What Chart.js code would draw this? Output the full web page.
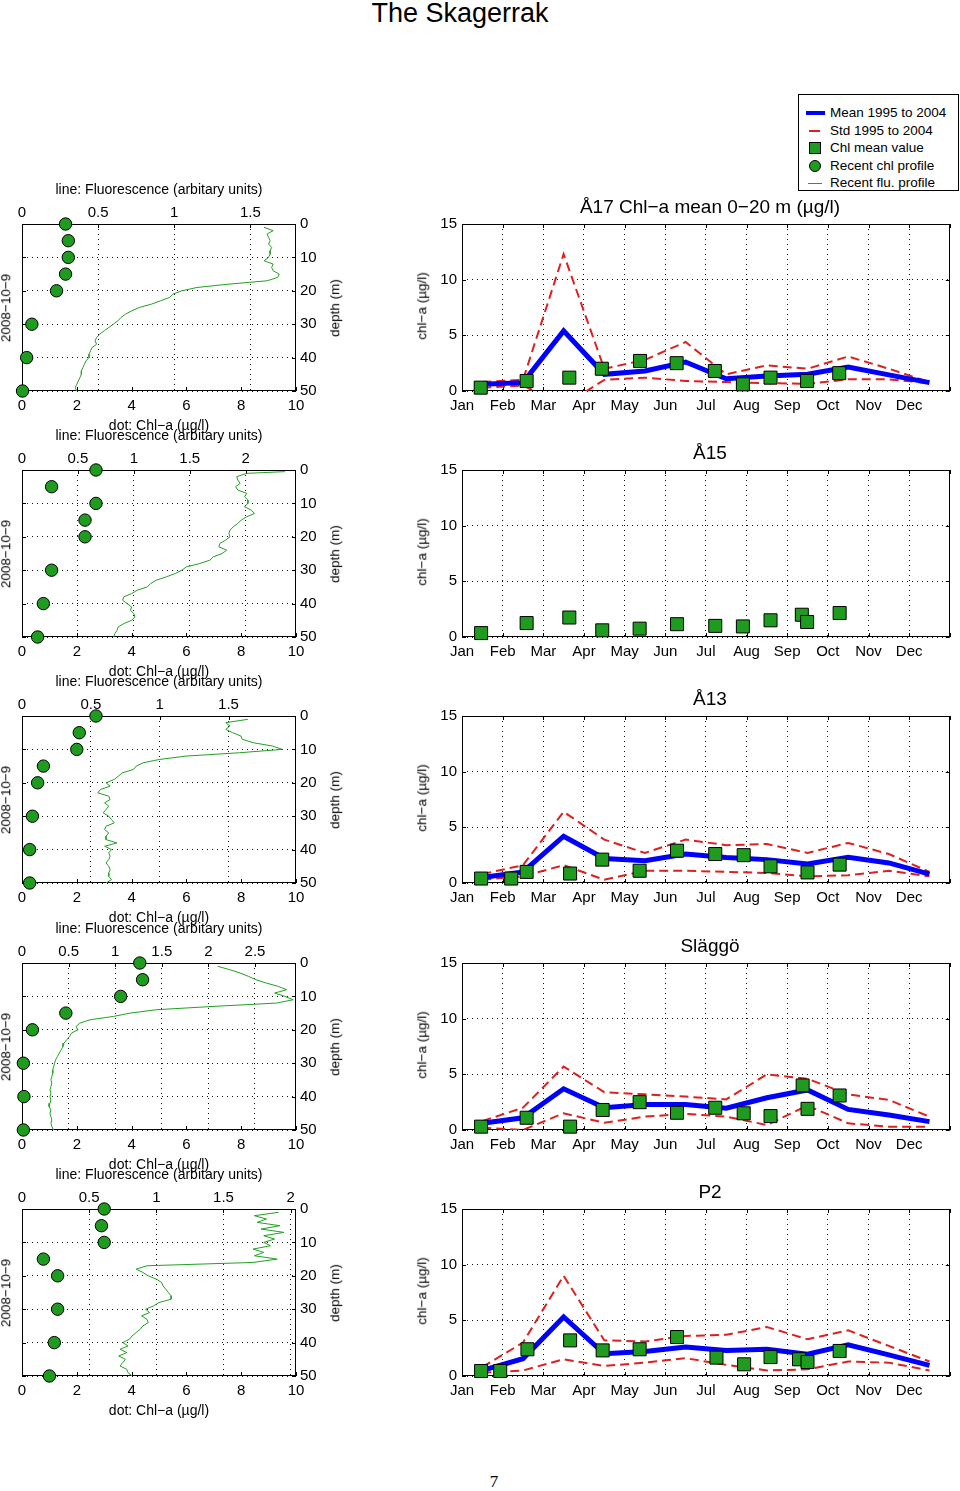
<!DOCTYPE html>
<html><head><meta charset="utf-8">
<script src="https://cdn.jsdelivr.net/npm/chart.js@4.4.0/dist/chart.umd.min.js"></script>
<style>
html,body{margin:0;padding:0;background:#fff;}
body{width:960px;height:1491px;position:relative;overflow:hidden;font-family:"Liberation Sans",Arial,Helvetica,sans-serif;color:#000;}
canvas{position:absolute;}
.t{position:absolute;transform:translate(-50%,-50%);white-space:nowrap;line-height:1;}
.r{position:absolute;transform:translate(-50%,-50%) rotate(-90deg);white-space:nowrap;line-height:1;}
.lg{position:absolute;left:798px;top:94px;width:161px;height:97px;box-sizing:border-box;border:1px solid #000;background:#fff;}
.lt{position:absolute;left:830px;transform:translateY(-50%);font-size:13.5px;white-space:nowrap;line-height:1;}
</style></head>
<body>
<script>
// ---------- categories / tick labels ----------
const months = ['Jan','Feb','Mar','Apr','May','Jun','Jul','Aug','Sep','Oct','Nov','Dec'];
const meanX = [0.5,1.5,2.5,3.5,4.5,5.5,6.5,7.5,8.5,9.5,10.5,11.5];

// ---------- Å17 ----------
const a17Mean = [0.6,0.75,5.4,1.5,1.8,2.6,1.1,1.35,1.5,2.15,1.45,0.75];
const a17Up   = [0.8,1.0,12.3,2.0,2.8,4.4,1.5,2.3,2.0,3.1,2.0,0.8];
const a17Lo   = [0.3,0.5,-1.3,1.0,1.2,0.9,0.8,0.7,0.65,1.05,1.05,0.7];
const a17BoxX = [0.46,1.59,2.64,3.44,4.38,5.28,6.22,6.91,7.59,8.49,9.28];
const a17BoxY = [0.3,0.9,1.2,2.0,2.7,2.5,1.8,0.6,1.2,0.9,1.6];

// ---------- Å15 ----------
const a15BoxX = [0.47,1.59,2.64,3.45,4.37,5.29,6.23,6.91,7.59,8.36,8.49,9.29];
const a15BoxY = [0.35,1.25,1.75,0.6,0.75,1.15,1.0,0.95,1.5,2.0,1.35,2.15];

// ---------- Å13 ----------
const a13Mean = [0.5,1.0,4.2,2.2,2.0,2.6,2.3,2.1,1.7,2.3,1.8,0.8];
const a13Up   = [0.8,1.6,6.4,3.9,2.7,3.9,3.4,3.5,2.7,3.6,2.6,1.0];
const a13Lo   = [0.3,0.6,1.6,0.3,1.1,1.1,1.0,0.9,0.6,0.7,1.1,0.6];
const a13BoxX = [0.47,1.21,1.59,2.66,3.45,4.37,5.29,6.23,6.93,7.59,8.5,9.29];
const a13BoxY = [0.4,0.4,1.0,0.85,2.1,1.1,2.9,2.6,2.5,1.5,0.95,1.65];

// ---------- Släggö ----------
const slMean = [0.6,1.1,3.7,2.0,2.3,2.3,1.95,2.9,3.6,1.85,1.35,0.75];
const slUp   = [0.8,2.0,5.7,3.4,3.2,3.0,2.75,5.0,4.6,3.2,2.7,1.2];
const slLo   = [0.2,0.0,1.5,0.65,1.2,1.45,1.2,0.45,2.2,0.6,0.3,0.3];
const slBoxX = [0.47,1.59,2.66,3.46,4.37,5.29,6.23,6.93,7.59,8.38,8.5,9.29];
const slBoxY = [0.3,1.1,0.3,1.8,2.5,1.55,2.0,1.5,1.25,4.0,1.9,3.1];

// ---------- P2 ----------
const p2Mean = [0.5,1.55,5.3,2.0,2.2,2.6,2.3,2.4,1.95,2.8,1.9,0.95];
const p2Up   = [0.8,3.0,9.0,3.2,3.1,3.6,3.7,4.4,3.3,4.1,2.7,1.3];
const p2Lo   = [0.3,0.5,1.5,0.9,1.2,1.6,1.0,0.5,0.6,1.3,1.2,0.5];
const p2BoxX = [0.47,0.94,1.61,2.66,3.46,4.37,5.29,6.26,6.94,7.59,8.29,8.5,9.29];
const p2BoxY = [0.45,0.45,2.4,3.2,2.3,2.4,3.5,1.65,1.05,1.7,1.5,1.25,2.25];

// ---------- profiles (2008-10-9) ----------
const dotDepth = [0,5,10,15,20,30,40,50];
const chl17 = [1.59,1.69,1.69,1.59,1.26,0.36,0.17,0.02];
const chl15 = [2.7,1.08,2.7,2.3,2.3,1.08,0.78,0.57];
const chl13 = [2.7,2.09,2.0,0.78,0.57,0.38,0.28,0.28];
const chlSl = [4.3,4.4,3.6,1.6,0.38,0.05,0.07,0.05];
const chlP2 = [3.0,2.9,3.0,0.78,1.3,1.3,1.18,1.0];

const fluDepth = [0.5,1,2,3,4,5,6,7,8,9,10,11,12,13,14,15,16,17,18,19,20,21,22,23,24,25,26,27,28,29,30,31,32,33,34,35,36,37,38,39,40,41,42,43,44,45,46,47,48,49,50];
const flu17 = [null,1.59,1.65,1.61,1.62,1.63,1.62,1.64,1.63,1.63,1.62,1.59,1.65,1.64,1.65,1.69,1.68,1.61,1.36,1.15,1.05,0.99,0.97,0.91,0.85,0.77,0.72,0.68,0.65,0.63,0.60,0.57,0.54,0.51,0.49,0.48,0.49,0.46,0.45,0.44,0.44,0.42,0.41,0.40,0.39,0.39,0.38,0.37,0.36,0.35,0.36];
const flu15 = [2.35,2.01,1.92,1.93,1.95,1.91,1.93,2.01,1.99,2.02,2.02,1.99,2.05,2.08,2.01,1.96,1.93,1.89,1.86,1.85,1.86,1.82,1.77,1.76,1.83,1.79,1.71,1.68,1.59,1.47,1.43,1.37,1.29,1.20,1.15,1.12,1.03,0.98,0.91,0.90,0.94,0.98,0.97,1.00,1.01,0.98,0.91,0.86,0.85,0.83,0.82];
const flu13 = [null,1.64,1.48,1.51,1.48,1.53,1.59,1.60,1.68,1.82,1.89,1.58,1.19,1.00,0.88,0.83,0.81,0.73,0.70,0.67,0.61,0.64,0.57,0.55,0.63,0.64,0.60,0.63,0.61,0.59,0.63,0.65,0.67,0.61,0.60,0.63,0.61,0.61,0.69,0.60,0.65,0.63,0.64,0.63,0.61,0.63,0.64,0.63,0.63,0.65,0.61];
const fluSl = [null,2.10,2.23,2.34,2.43,2.51,2.62,2.75,2.84,2.71,2.82,2.91,2.73,2.05,1.44,1.16,0.98,0.73,0.62,0.58,0.60,0.53,0.51,0.48,0.45,0.44,0.42,0.40,0.38,0.36,0.35,0.34,0.33,0.33,0.32,0.31,0.32,0.31,0.30,0.31,0.30,0.31,0.30,0.29,0.31,0.30,0.31,0.32,0.31,0.32,0.34];
const fluP2 = [null,1.91,1.73,1.82,1.75,1.92,1.78,1.95,1.80,1.88,1.80,1.85,1.72,1.80,1.73,1.90,1.72,0.93,0.85,0.90,0.94,1.00,1.04,1.05,1.07,1.09,1.11,1.11,1.02,0.98,0.92,0.95,0.89,0.93,0.94,0.90,0.88,0.85,0.82,0.80,0.75,0.79,0.73,0.78,0.72,0.77,0.75,0.73,0.78,0.79,0.82];
const fluMaxes = [1.8,2.45,1.99,2.94,2.04];

const stationTitles = ['Å17 Chl−a mean 0−20 m (µg/l)','Å15','Å13','Släggö','P2'];

// ---------- assemble ----------
const stations = [
  {chl:chl17, flu:flu17, bx:a17BoxX, by:a17BoxY, mean:a17Mean, up:a17Up, lo:a17Lo},
  {chl:chl15, flu:flu15, bx:a15BoxX, by:a15BoxY, mean:null},
  {chl:chl13, flu:flu13, bx:a13BoxX, by:a13BoxY, mean:a13Mean, up:a13Up, lo:a13Lo},
  {chl:chlSl, flu:fluSl, bx:slBoxX, by:slBoxY, mean:slMean, up:slUp, lo:slLo},
  {chl:chlP2, flu:fluP2, bx:p2BoxX, by:p2BoxY, mean:p2Mean, up:p2Up, lo:p2Lo}
];

const tops = [224,470,716,963,1209];
const H = 167;
const GREEN = '#1f9c1f', RED = '#dd2020', BLUE = '#0000ff', FLU = '#22a022', GRID = '#111';

Chart.defaults.font.family = '"Liberation Sans", Arial, Helvetica, sans-serif';
Chart.defaults.font.size = 15;
Chart.defaults.color = '#000';

// frame + inward ticks (MATLAB look), drawn from the chart's own scales
const framePlugin = {
  id: 'frame',
  beforeDatasetsDraw(chart, args, opts) {
    const {ctx, chartArea: a} = chart;
    const L = 4;
    ctx.save();
    ctx.strokeStyle = '#000'; ctx.lineWidth = 1; ctx.setLineDash([]);
    Object.values(chart.scales).forEach(s => {
      s.ticks.forEach(t => {
        const p = Math.round(s.getPixelForValue(t.value)) + 0.5;
        ctx.beginPath();
        if (s.isHorizontal()) {
          if (s.position === 'top') { ctx.moveTo(p, a.top); ctx.lineTo(p, a.top + L); if (opts.mirrorX) { ctx.moveTo(p, a.bottom); ctx.lineTo(p, a.bottom - L); } }
          else { ctx.moveTo(p, a.bottom); ctx.lineTo(p, a.bottom - L); if (opts.mirrorX) { ctx.moveTo(p, a.top); ctx.lineTo(p, a.top + L); } }
        } else {
          ctx.moveTo(a.left, p); ctx.lineTo(a.left + L, p);
          ctx.moveTo(a.right, p); ctx.lineTo(a.right - L, p);
        }
        ctx.stroke();
      });
    });
    ctx.strokeRect(Math.round(a.left) + 0.5, Math.round(a.top) + 0.5, Math.round(a.right - a.left) - 1, Math.round(a.bottom - a.top) - 1);
    ctx.restore();
  }
};

function addText(str, x, y, size, cls, extra) {
  const d = document.createElement('div');
  d.className = cls || 't';
  d.textContent = str;
  d.style.left = x + 'px'; d.style.top = y + 'px'; d.style.fontSize = size + 'px';
  if (extra) Object.assign(d.style, extra);
  document.body.appendChild(d);
}

function gridOpts(show) {
  return { display: show, color: GRID, lineWidth: 1, drawTicks: false, borderDash: [1, 4] };
}
const borderOpts = { display: false, dash: [1, 4] };
const fmt = v => String(+(+v).toFixed(2));

function makeLeft(i, s) {
  const T = tops[i];
  const c = document.createElement('canvas');
  c.width = 350; c.height = 50 + H + 45;
  c.style.left = '0px'; c.style.top = (T - 50) + 'px';
  document.body.appendChild(c);
  const dots = dotDepth.map((d, k) => ({x: s.chl[k], y: d}));
  const line = fluDepth.map((d, k) => ({x: s.flu[k], y: d})).filter(p => p.x !== null);
  new Chart(c, {
    type: 'scatter',
    data: { datasets: [
      {data: dots, xAxisID: 'x', yAxisID: 'y', pointStyle: 'circle', pointRadius: 6.2, backgroundColor: GREEN, borderColor: '#000', borderWidth: 1, showLine: false, clip: false},
      {data: line, xAxisID: 'x2', yAxisID: 'y', showLine: true, borderColor: FLU, borderWidth: 1, pointRadius: 0, tension: 0, clip: 0}
    ]},
    options: {
      responsive: false, animation: false, events: [],
      layout: {padding: {left: 22, top: 0, right: 0, bottom: 0}},
      plugins: {legend: {display: false}, tooltip: {enabled: false}, frame: {mirrorX: false}},
      scales: {
        x: {type: 'linear', position: 'bottom', min: 0, max: 10, afterFit: sc => { sc.height = 45; },
            grid: gridOpts(false), border: borderOpts,
            ticks: {stepSize: 2, padding: 6, autoSkip: false, maxRotation: 0, minRotation: 0}},
        x2: {type: 'linear', axis: 'x', position: 'top', min: 0, max: s.fluMax, afterFit: sc => { sc.height = 50; },
            grid: gridOpts(true), border: borderOpts,
            ticks: {stepSize: 0.5, includeBounds: false, padding: 2, autoSkip: false, maxRotation: 0, minRotation: 0, callback: fmt}},
        y: {type: 'linear', position: 'right', reverse: true, min: 0, max: 50, afterFit: sc => { sc.width = 54; },
            grid: gridOpts(true), border: borderOpts,
            ticks: {stepSize: 10, padding: 4}}
      }
    },
    plugins: [framePlugin]
  });
  addText('line: Fluorescence (arbitary units)', 159, T - 35, 14);
  addText('dot: Chl−a (µg/l)', 159, T + H + 34, 14);
  addText('2008−10−9', 6, T + 84, 13.5, 'r');
  addText('depth (m)', 335, T + 84, 13.5, 'r');
}

function makeRight(i, s, title) {
  const T = tops[i];
  const c = document.createElement('canvas');
  c.width = 560; c.height = 40 + H + 40;
  c.style.left = '400px'; c.style.top = (T - 40) + 'px';
  document.body.appendChild(c);
  const ds = [{data: s.bx.map((x, k) => ({x, y: s.by[k]})), pointStyle: 'rect', pointRadius: 9.2, backgroundColor: GREEN, borderColor: '#000', borderWidth: 1, showLine: false, clip: false}];
  if (s.mean) {
    ds.push({data: meanX.map((x, k) => ({x, y: s.mean[k]})), showLine: true, borderColor: BLUE, borderWidth: 5, pointRadius: 0, tension: 0, clip: 0});
    ds.push({data: meanX.map((x, k) => ({x, y: s.up[k]})), showLine: true, borderColor: RED, borderWidth: 2, borderDash: [9, 5], pointRadius: 0, tension: 0, clip: 0});
    ds.push({data: meanX.map((x, k) => ({x, y: s.lo[k]})), showLine: true, borderColor: RED, borderWidth: 2, borderDash: [9, 5], pointRadius: 0, tension: 0, clip: 0});
  }
  new Chart(c, {
    type: 'scatter',
    data: {datasets: ds},
    options: {
      responsive: false, animation: false, events: [],
      layout: {padding: {left: 0, top: 40, right: 2, bottom: 0}},
      plugins: {legend: {display: false}, tooltip: {enabled: false}, frame: {mirrorX: true}},
      scales: {
        x: {type: 'linear', position: 'bottom', min: 0, max: 12, afterFit: sc => { sc.height = 40; },
            grid: gridOpts(true), border: borderOpts,
            ticks: {stepSize: 1, padding: 6, autoSkip: false, maxRotation: 0, minRotation: 0, callback: v => months[Math.round(v)] || ''}},
        y: {type: 'linear', position: 'left', min: 0, max: 15, afterFit: sc => { sc.width = 62; },
            grid: gridOpts(true), border: borderOpts,
            ticks: {stepSize: 5, padding: 5}}
      }
    },
    plugins: [framePlugin]
  });
  addText(title, 710, T - 18, 19);
  addText('chl−a (µg/l)', 422, T + 82, 13.5, 'r');
}

stations.forEach((s, i) => {
  s.fluMax = fluMaxes[i];
  makeLeft(i, s);
  makeRight(i, s, stationTitles[i]);
});

// page title, legend, page number
addText('The Skagerrak', 460, 13, 27);

const lg = document.createElement('div'); lg.className = 'lg'; document.body.appendChild(lg);
const legendItems = ['Mean 1995 to 2004','Std 1995 to 2004','Chl mean value','Recent chl profile','Recent flu. profile'];
const legendY = [113,130.5,148,165.5,183];
legendItems.forEach((t, k) => {
  const d = document.createElement('div'); d.className = 'lt'; d.textContent = t; d.style.top = legendY[k] + 'px';
  document.body.appendChild(d);
});
function sw(css) { const d = document.createElement('div'); d.style.position = 'absolute'; Object.assign(d.style, css); document.body.appendChild(d); }
sw({left: '806px', top: (legendY[0] - 2) + 'px', width: '19px', height: '4px', background: BLUE});
sw({left: '809px', top: (legendY[1] - 1) + 'px', width: '11px', height: '2px', background: RED});
sw({left: '809px', top: (legendY[2] - 6) + 'px', width: '12px', height: '12px', background: GREEN, border: '1px solid #000', boxSizing: 'border-box'});
sw({left: '809px', top: (legendY[3] - 6) + 'px', width: '12px', height: '12px', background: GREEN, border: '1px solid #000', boxSizing: 'border-box', borderRadius: '50%'});
sw({left: '808px', top: (legendY[4] - 0.5) + 'px', width: '14px', height: '1px', background: FLU});

addText('7', 494, 1481, 17, 't', {fontFamily: '"Liberation Serif", "Times New Roman", serif'});
</script>
</body></html>
